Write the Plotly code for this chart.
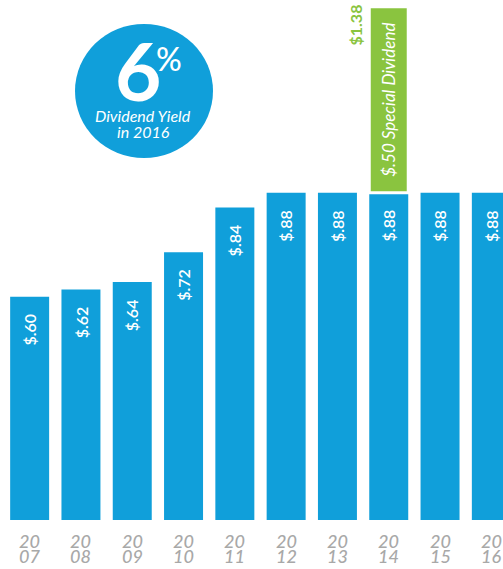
import plotly.graph_objects as go

years = ["2007", "2008", "2009", "2010", "2011", "2012", "2013", "2014", "2015", "2016"]
tick_top = ["20"] * 10
tick_bottom = ["07", "08", "09", "10", "11", "12", "13", "14", "15", "16"]
dividends = [0.60, 0.62, 0.64, 0.72, 0.84, 0.88, 0.88, 0.88, 0.88, 0.88]
bar_labels = ["$.60", "$.62", "$.64", "$.72", "$.84", "$.88", "$.88", "$.88", "$.88", "$.88"]
special_year = ["2014"]
special_value = [0.50]
special_base = [0.88]
special_label = ["$.50 Special Dividend"]
total_label = "$1.38"

BLUE = "#109FDA"
GREEN = "#8AC43F"
GRAY = "#A8A8A8"
FONT = "Lato"

W, H = 503, 569
L, R, T, B = 4, 0, 0, 49
pw, ph = W - L - R, H - T - B

def px(x):
    return (x - L) / pw

def py(y):
    return 1 - (y - T) / ph

fig = go.Figure()
fig.add_trace(go.Bar(
    x=years, y=dividends, marker=dict(color=BLUE, line=dict(width=0)),
    hoverinfo="skip",
))
fig.add_trace(go.Bar(
    x=special_year, y=special_value, base=special_base,
    marker=dict(color=GREEN, line=dict(width=3, color="white")),
    text=special_label, textposition="inside", insidetextanchor="middle", textangle=-90,
    textfont=dict(family=FONT, size=17, color="white", style="italic", weight=400),
    constraintext="none", hoverinfo="skip",
))

# bar value labels (category index positions)
for i, (v, lab) in enumerate(zip(dividends, bar_labels)):
    fig.add_annotation(x=i, y=v, xref="x", yref="y", text=lab, textangle=-90,
                       showarrow=False, xanchor="center", yanchor="top", yshift=-15,
                       font=dict(family=FONT, size=16, color="white", weight=600))

# category labels (two lines)
for i, (a, b) in enumerate(zip(tick_top, tick_bottom)):
    fig.add_annotation(x=i, y=py(541), xref="x", yref="paper", text=a,
                       showarrow=False, xanchor="center", yanchor="middle",
                       font=dict(family=FONT, size=18, color=GRAY, style="italic", weight=500))
    fig.add_annotation(x=i, y=py(556), xref="x", yref="paper", text=b,
                       showarrow=False, xanchor="center", yanchor="middle",
                       font=dict(family=FONT, size=18, color=GRAY, style="italic", weight=500))

fig.add_annotation(
    xref="paper", yref="paper", x=px(354.5), y=py(25),
    text=total_label, textangle=-90, showarrow=False,
    xanchor="center", yanchor="middle",
    font=dict(family=FONT, size=16, color=GREEN, weight=700),
)

# Yield circle
fig.add_shape(type="circle", xref="paper", yref="paper",
              x0=px(75), x1=px(213), y0=py(158), y1=py(24),
              fillcolor=BLUE, line=dict(width=0), layer="above")
fig.add_annotation(xref="paper", yref="paper", x=px(138), y=py(70), text="6",
                   showarrow=False, xanchor="center", yanchor="middle",
                   font=dict(family=FONT, size=80, color="white", weight=700))
fig.add_annotation(xref="paper", yref="paper", x=px(169), y=py(58), text="%",
                   showarrow=False, xanchor="center", yanchor="middle",
                   font=dict(family=FONT, size=32, color="white", weight=500))
fig.add_annotation(xref="paper", yref="paper", x=px(143), y=py(116),
                   text="Dividend Yield", showarrow=False,
                   xanchor="center", yanchor="middle",
                   font=dict(family=FONT, size=16, color="white", style="italic"))
fig.add_annotation(xref="paper", yref="paper", x=px(143), y=py(131),
                   text="in 2016", showarrow=False,
                   xanchor="center", yanchor="middle",
                   font=dict(family=FONT, size=16, color="white", style="italic"))

fig.update_layout(
    width=W, height=H, margin=dict(l=L, r=R, t=T, b=B),
    paper_bgcolor="white", plot_bgcolor="white",
    barmode="overlay", bargap=0.24, showlegend=False,
)
fig.update_xaxes(type="category", range=[-0.5, 9.5 - 14 / 51.33], showticklabels=False,
                 showgrid=False, zeroline=False, showline=False, ticks="")
fig.update_yaxes(range=[0, 1.398], visible=False, showgrid=False, zeroline=False)

fig.write_html("out.html")
